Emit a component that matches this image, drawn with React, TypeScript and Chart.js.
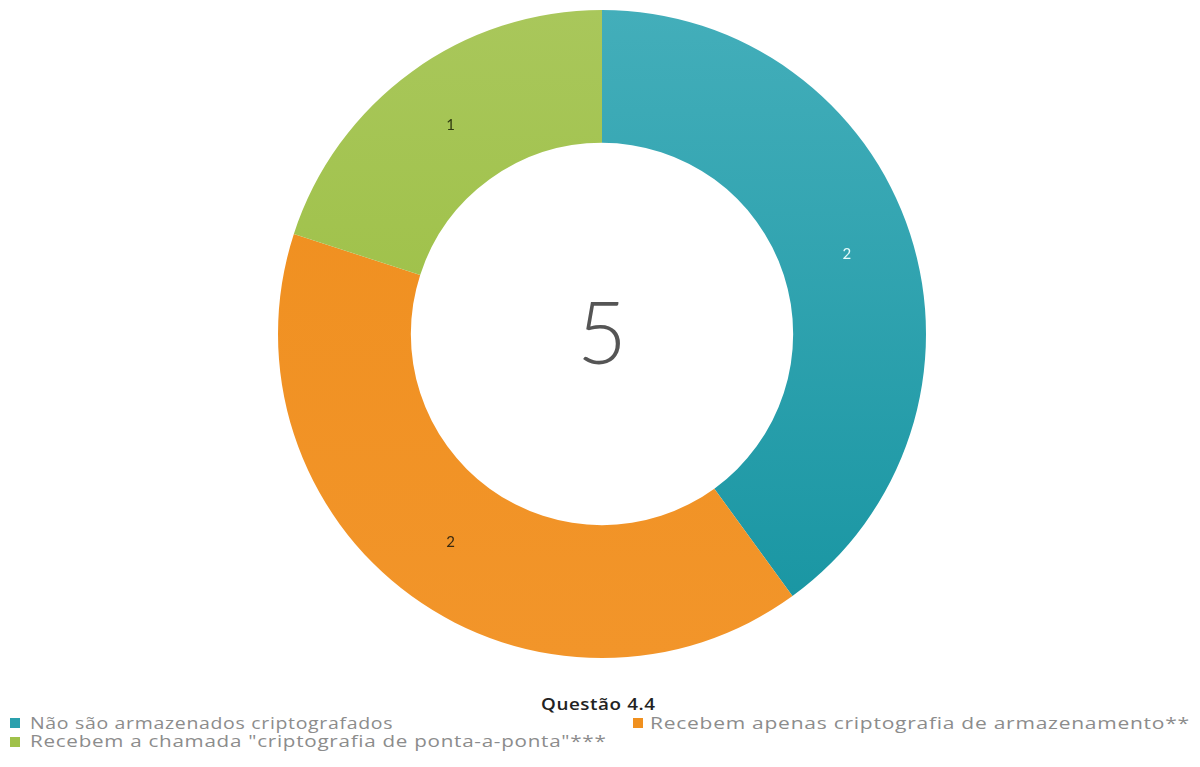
import React, { useEffect, useLayoutEffect, useRef } from "react";
import { Chart, registerables } from "chart.js";

Chart.register(...registerables);

const categories = [
  "Não são armazenados criptografados",
  "Recebem apenas criptografia de armazenamento**",
  "Recebem a chamada \"criptografia de ponta-a-ponta\"***",
];
const values = [2, 2, 1];
const colorTop = ["#43aeba", "#ef8e1d", "#a9c75b"];
const colorBottom = ["#1694a1", "#f2952a", "#94bb36"];
const legendColors = ["#2aa0ad", "#f0901f", "#a0c14a"];
const labelColors = ["#e6fbfb", "#3a2a10", "#2f3a10"];
const totalLabel = "5";
const legendTitle = "Questão 4.4";

const sliceLabels = {
  id: "sliceLabels",
  afterDatasetsDraw(chart: any) {
    const ctx = chart.ctx;
    const meta = chart.getDatasetMeta(0);
    ctx.save();
    ctx.font = "15px Lato, 'Open Sans', sans-serif";
    ctx.textAlign = "center";
    ctx.textBaseline = "middle";
    meta.data.forEach((arc: any, i: number) => {
      const p = arc.tooltipPosition();
      ctx.fillStyle = labelColors[i];
      ctx.fillText(String(values[i]), p.x, p.y);
    });
    const a = meta.data[0];
    ctx.fillStyle = "#555555";
    ctx.font = "300 86px Lato, 'Open Sans', sans-serif";
    ctx.fillText(totalLabel, a.x, a.y + 2);
    ctx.restore();
  },
};

// legend text boxes: [left, top, right]
const textBoxes = [
  [30, 713, 393],
  [650, 713, 1190],
  [30, 731, 606],
];
const titleBox = [541, 694, 655];

export default function App() {
  const ref = useRef<HTMLCanvasElement>(null);
  const textRefs = useRef<(HTMLDivElement | null)[]>([]);
  const titleRef = useRef<HTMLDivElement>(null);

  useLayoutEffect(() => {
    textRefs.current.forEach((el, i) => {
      if (!el) return;
      const target = textBoxes[i][2] - textBoxes[i][0];
      el.style.transform = `scaleX(${target / el.offsetWidth})`;
    });
    const t = titleRef.current;
    if (t) t.style.transform = `scaleX(${(titleBox[2] - titleBox[0]) / t.offsetWidth})`;
  }, []);

  useEffect(() => {
    const chart = new Chart(ref.current!, {
      type: "doughnut",
      data: {
        labels: categories,
        datasets: [
          {
            data: values,
            backgroundColor: (c: any) => {
              const area = c.chart.chartArea;
              const i = c.dataIndex;
              if (!area) return colorTop[i];
              const g = c.chart.ctx.createLinearGradient(0, area.top, 0, area.bottom);
              g.addColorStop(0, colorTop[i]);
              g.addColorStop(1, colorBottom[i]);
              return g;
            },
            borderWidth: 0,
            hoverOffset: 0,
          },
        ],
      },
      options: {
        animation: false,
        responsive: false,
        cutout: "59%",
        layout: { padding: { top: 10, bottom: 10, left: 4, right: 0 } },
        plugins: {
          legend: { display: false },
          tooltip: { enabled: false },
        },
      },
      plugins: [sliceLabels],
    });
    return () => chart.destroy();
  }, []);

  const textStyle: React.CSSProperties = {
    position: "absolute",
    fontFamily: "'Open Sans', sans-serif",
    fontSize: 17,
    letterSpacing: "0.6px",
    color: "#8c8c8c",
    whiteSpace: "nowrap",
    lineHeight: "20px",
    transformOrigin: "left center",
  };
  const sq = (c: string, x: number, y: number) => (
    <div style={{ position: "absolute", left: x, top: y, width: 10, height: 10, background: c }} />
  );

  return (
    <div style={{ position: "fixed", left: 0, top: 0, width: 1200, height: 767, background: "#fff", overflow: "hidden" }}>
      <canvas ref={ref} width={1200} height={668} style={{ position: "absolute", left: 0, top: 0 }} />
      <div
        ref={titleRef}
        style={{
          position: "absolute",
          left: titleBox[0],
          top: titleBox[1],
          fontFamily: "'Open Sans', sans-serif",
          fontWeight: 600,
          fontSize: 16,
          letterSpacing: "0.5px",
          color: "#222",
          whiteSpace: "nowrap",
          lineHeight: "20px",
          transformOrigin: "left center",
        }}
      >
        {legendTitle}
      </div>
      {sq(legendColors[0], 10, 718)}
      {sq(legendColors[1], 633, 718)}
      {sq(legendColors[2], 10, 737)}
      {categories.map((c, i) => (
        <div
          key={c}
          ref={(el) => {
            textRefs.current[i] = el;
          }}
          style={{ ...textStyle, left: textBoxes[i][0], top: textBoxes[i][1] }}
        >
          {c}
        </div>
      ))}
    </div>
  );
}
